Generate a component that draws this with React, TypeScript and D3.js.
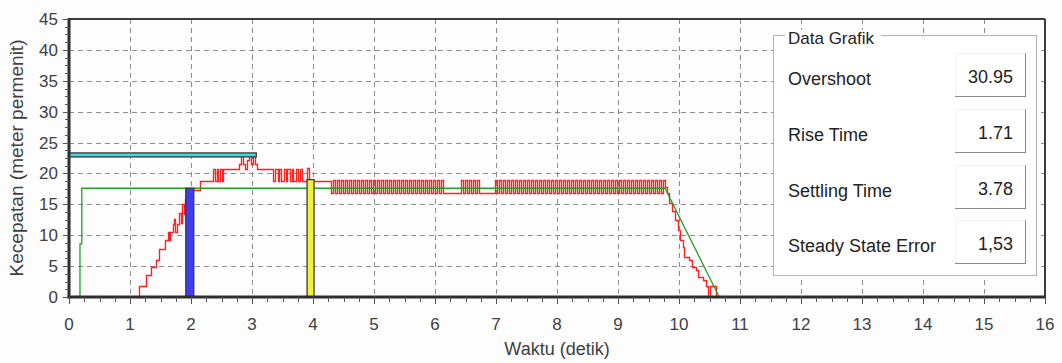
import React from "react";
import * as d3 from "d3";

// ---------- data ----------
const xTickLabels = [0, 1, 2, 3, 4, 5, 6, 7, 8, 9, 10, 11, 12, 13, 14, 15, 16];
const yTickLabels = [0, 5, 10, 15, 20, 25, 30, 35, 40, 45];

// setpoint (green)
const greenT = [0.18, 0.18, 0.21, 0.21, 9.77, 10.66];
const greenV = [0, 8.6, 8.6, 17.6, 17.6, 0];

// measured speed (red) – transient part, step vertices [t, v]
const redRise: [number, number][] = [
  [1.12, 0], [1.15, 1.8], [1.26, 3.6], [1.35, 4.8], [1.42, 6.0], [1.47, 7.8],
  [1.58, 9.2], [1.62, 10.5], [1.64, 9.2], [1.66, 10.5], [1.70, 11.8], [1.72, 12.6],
  [1.74, 10.5], [1.77, 11.8], [1.80, 13.6], [1.83, 12.0], [1.85, 15.0], [1.88, 13.5],
  [1.90, 15.8], [1.93, 17.3], [2.14, 18.8], [2.36, 20.7], [2.39, 18.8], [2.42, 20.7],
  [2.45, 18.8], [2.48, 20.7], [2.50, 18.8], [2.52, 20.7], [2.78, 21.6], [2.82, 23.0],
  [2.85, 21.6], [2.88, 20.7], [2.92, 22.2], [2.95, 23.0], [2.98, 21.6], [3.01, 23.0],
  [3.05, 21.6], [3.08, 20.7], [3.35, 18.8], [3.38, 20.7], [3.42, 18.8], [3.45, 20.7],
  [3.48, 18.8], [3.52, 20.7], [3.55, 18.8], [3.58, 20.7], [3.62, 18.8], [3.65, 20.7],
  [3.68, 18.8], [3.72, 20.7], [3.75, 18.8], [3.78, 20.7], [3.82, 18.8], [3.90, 20.9],
  [3.93, 18.7],
];

// steady-state part, samples every 0.0328 s from t = 4.30
const L = 16.8;
const H = 18.9;
const redSteadyStart = 4.3;
const redSteadyStep = 0.0328;
const redSteady = [
  L, H, L, H, L, H, L, H, L, H,
  L, H, L, H, L, H, L, H, L, H,
  L, H, L, H, L, H, L, H, L, H,
  L, H, L, H, L, H, L, H, L, H,
  L, H, L, H, L, H, L, H, L, H,
  L, H, L, H, L, H, L,
  L, L, L, L, L, L, L, L,
  H, L, H, L, H, L, H, L, H,
  L, L, L, L, L, L, L, L,
  H, L, H, L, H, L, H, L, H, L,
  H, L, H, L, H, L, H, L, H, L,
  H, L, H, L, H, L, H, L, H, L,
  H, L, H, L, H, L, H, L, H, L,
  H, L, H, L, H, L, H, L, H, L,
  H, L, H, L, H, L, H, L, H, L,
  H, L, H, L, H, L, H, L, H, L,
  H, L, H, L, H, L, H, L, H, L,
  H, L, H, L, H,
];

// ramp-down part
const redFall: [number, number][] = [
  [9.77, 17.8], [9.80, 16.8], [9.83, 15.2], [9.88, 14.0], [9.94, 12.5], [9.98, 10.8],
  [10.01, 9.2], [10.06, 8.1], [10.09, 6.5], [10.17, 6.0], [10.21, 4.9], [10.28, 4.4],
  [10.31, 3.3], [10.39, 2.75], [10.45, 1.7], [10.48, 0], [10.50, 1.7], [10.60, 0],
  [10.62, 0],
];

// markers
const overshootLevel = 23.0;
const overshootEndT = 3.07;
const riseBarT = 1.98;
const riseBarV = 17.6;
const settleBarT = 3.96;
const settleBarV = 19.0;

// info panel
const infoTitle = "Data Grafik";
const infoLabels = ["Overshoot", "Rise Time", "Settling Time", "Steady State Error"];
const infoValues = ["30.95", "1.71", "3.78", "1,53"];

// ---------- chart ----------
const FONT = "'Liberation Sans', Arial, sans-serif";

export default function App() {
  const x = d3.scaleLinear().domain([0, 16]).range([69, 1045]);
  const y = d3.scaleLinear().domain([0, 45]).range([297, 19]);

  const redPts: [number, number][] = [
    ...redRise,
    ...redSteady.map((v, i) => [redSteadyStart + i * redSteadyStep, v] as [number, number]),
    ...redFall,
  ];
  const stepLine = d3
    .line<[number, number]>()
    .x((d) => Math.round(x(d[0])) + 0.5)
    .y((d) => Math.round(y(d[1])) + 0.5)
    .curve(d3.curveStepAfter);
  const linLine = d3
    .line<[number, number]>()
    .x((d) => x(d[0]))
    .y((d) => y(d[1]));
  const greenPts = greenT.map((t, i) => [t, greenV[i]] as [number, number]);

  const minorX: number[] = [];
  for (let i = 0; i < xTickLabels.length - 1; i++) {
    [0.25, 0.5, 0.75].forEach((f) => minorX.push(xTickLabels[i] + f));
  }
  const minorY: number[] = [];
  for (let i = 0; i < yTickLabels.length - 1; i++) {
    [1.25, 2.5, 3.75].forEach((f) => minorY.push(yTickLabels[i] + f));
  }

  const x0 = x(0), x1 = x(16), y0 = y(0), y1 = y(45);
  const boxTops = [53, 109, 165, 220];

  return (
    <svg
      width={1062}
      height={363}
      style={{ position: "absolute", left: 0, top: 0, background: "#ffffff" }}
      fontFamily={FONT}
    >
      <rect x={0} y={0} width={1062} height={363} fill="#fdfdfe" />
      {/* grid */}
      <g stroke="#8c8c8c" strokeWidth={1} strokeDasharray="5,4">
        {xTickLabels.slice(1, -1).map((t) => (
          <line key={"gx" + t} x1={Math.round(x(t)) + 0.5} x2={Math.round(x(t)) + 0.5} y1={y1} y2={y0} />
        ))}
        {yTickLabels.slice(1, -1).map((v) => (
          <line key={"gy" + v} x1={x0} x2={x1} y1={Math.round(y(v)) + 0.5} y2={Math.round(y(v)) + 0.5} />
        ))}
      </g>

      {/* series */}
      <path d={stepLine(redPts) || ""} fill="none" stroke="#ff2020" strokeWidth={1.35} />
      <path d={linLine(greenPts) || ""} fill="none" stroke="#22a022" strokeWidth={1.3} />

      {/* markers */}
      <rect
        x={x0}
        y={y(overshootLevel) - 2}
        width={x(overshootEndT) - x0}
        height={4}
        fill="#3fd9e0"
        stroke="#3a3a3a"
        strokeWidth={1.3}
      />
      <rect
        x={x(riseBarT) - 4}
        y={y(riseBarV)}
        width={8}
        height={y0 - y(riseBarV)}
        fill="#3d3df2"
        stroke="#3a3a3a"
        strokeWidth={1.3}
      />
      <rect
        x={x(settleBarT) - 3.5}
        y={y(settleBarV)}
        width={7}
        height={y0 - y(settleBarV)}
        fill="#f2f23a"
        stroke="#3a3a3a"
        strokeWidth={1.3}
      />

      {/* frame */}
      <line x1={x0} x2={x1} y1={y1} y2={y1} stroke="#3c3c3c" strokeWidth={2} />
      <line x1={x1} x2={x1} y1={y1} y2={y0} stroke="#3c3c3c" strokeWidth={2} />
      <line x1={x0} x2={x0} y1={y1 - 1} y2={y0 + 1.5} stroke="#2e2e2e" strokeWidth={3} />
      <line x1={x0 - 1.5} x2={x1 + 1} y1={y0} y2={y0} stroke="#2e2e2e" strokeWidth={3} />

      {/* ticks */}
      <g stroke="#555" strokeWidth={1}>
        {xTickLabels.map((t) => (
          <line key={"tx" + t} x1={Math.round(x(t)) + 0.5} x2={Math.round(x(t)) + 0.5} y1={y0} y2={y0 + 7} />
        ))}
        {minorX.map((t) => (
          <line key={"mx" + t} x1={Math.round(x(t)) + 0.5} x2={Math.round(x(t)) + 0.5} y1={y0} y2={y0 + 5} />
        ))}
        {yTickLabels.map((v) => (
          <line key={"ty" + v} x1={x0 - 6} x2={x0} y1={Math.round(y(v)) + 0.5} y2={Math.round(y(v)) + 0.5} />
        ))}
        {minorY.map((v) => (
          <line key={"my" + v} x1={x0 - 4} x2={x0} y1={Math.round(y(v)) + 0.5} y2={Math.round(y(v)) + 0.5} />
        ))}
      </g>

      {/* tick labels */}
      <g fill="#404040" fontSize={17}>
        {xTickLabels.map((t) => (
          <text key={"lx" + t} x={x(t)} y={330} textAnchor="middle">
            {t}
          </text>
        ))}
        {yTickLabels.map((v) => (
          <text key={"ly" + v} x={58} y={y(v) + 6} textAnchor="end">
            {v}
          </text>
        ))}
      </g>

      {/* axis titles */}
      <text x={557} y={355} textAnchor="middle" fontSize={18} fill="#404040">
        Waktu (detik)
      </text>
      <text
        transform="translate(23,158) rotate(-90)"
        textAnchor="middle"
        fontSize={18}
        fill="#404040"
        textLength={237}
        lengthAdjust="spacingAndGlyphs"
      >
        Kecepatan (meter permenit)
      </text>

      {/* info panel */}
      <rect x={773.5} y={35.5} width={263} height={240} fill="#ffffff" stroke="#b4b4b4" strokeWidth={1} />
      <rect x={785} y={30} width={96} height={12} fill="#ffffff" />
      <text x={788} y={44} fontSize={17} fill="#222">
        {infoTitle}
      </text>
      {infoLabels.map((lab, i) => (
        <g key={lab}>
          <text x={788} y={boxTops[i] + 32} fontSize={18} fill="#222">
            {lab}
          </text>
          <line x1={955} x2={1025} y1={boxTops[i] + 0.5} y2={boxTops[i] + 0.5} stroke="#f2f2f2" />
          <line x1={955.5} x2={955.5} y1={boxTops[i]} y2={boxTops[i] + 43} stroke="#f2f2f2" />
          <line x1={1025.5} x2={1025.5} y1={boxTops[i]} y2={boxTops[i] + 43} stroke="#8a8a8a" />
          <line x1={955} x2={1026} y1={boxTops[i] + 43.5} y2={boxTops[i] + 43.5} stroke="#8a8a8a" />
          <text x={1013} y={boxTops[i] + 30} textAnchor="end" fontSize={18} fill="#222">
            {infoValues[i]}
          </text>
        </g>
      ))}
    </svg>
  );
}
